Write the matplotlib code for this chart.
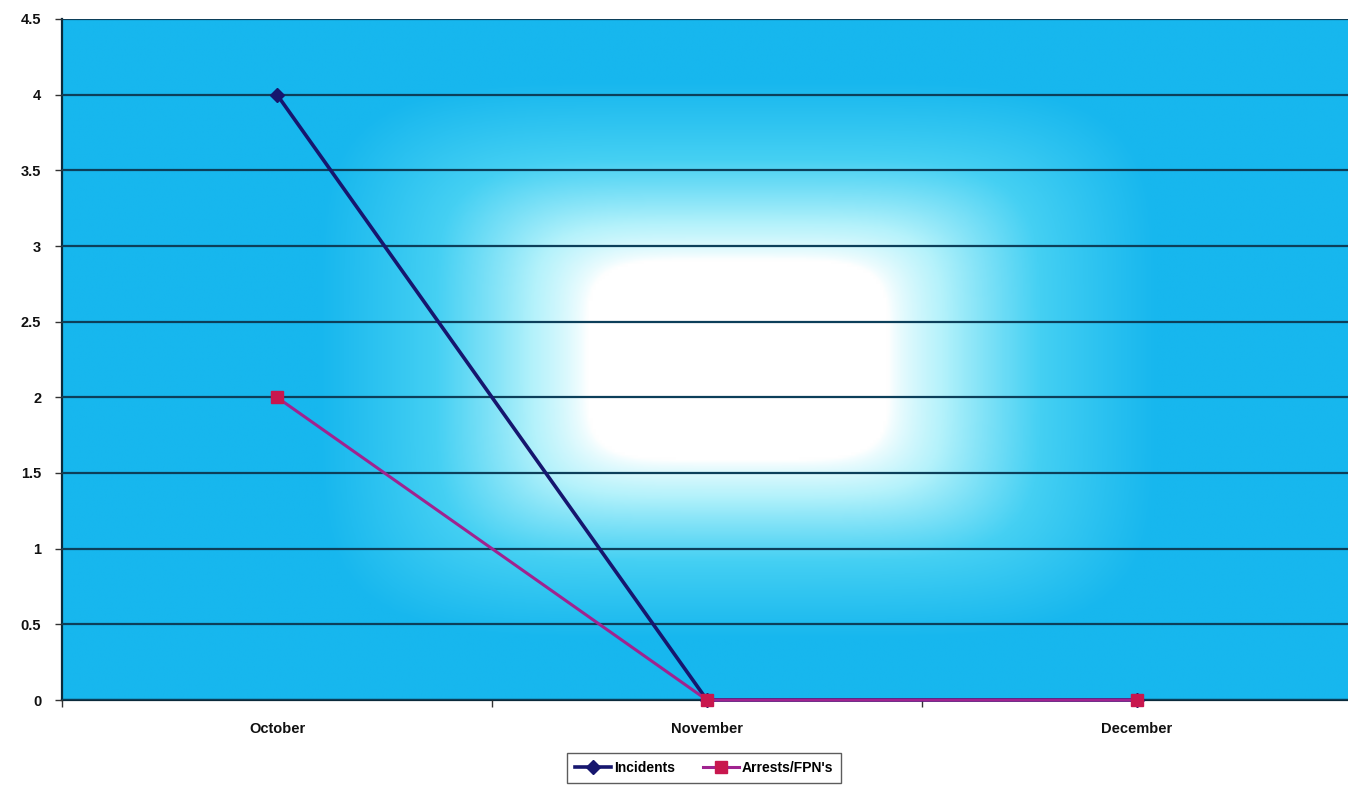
import numpy as np
import matplotlib
matplotlib.use("Agg")
import matplotlib.pyplot as plt
from matplotlib.colors import LinearSegmentedColormap

months = ["October", "November", "December"]
incidents = [4, 0, 0]
arrests = [2, 0, 0]
yticks = [0, 0.5, 1, 1.5, 2, 2.5, 3, 3.5, 4, 4.5]
ytick_labels = ["0", "0.5", "1", "1.5", "2", "2.5", "3", "3.5", "4", "4.5"]

W, H = 1348, 790
fig = plt.figure(figsize=(W / 100, H / 100), dpi=100)
ax_l, ax_r, ax_t, ax_b = 62, 1352, 19, 700
ax = fig.add_axes([ax_l / W, 1 - ax_b / H, (ax_r - ax_l) / W, (ax_b - ax_t) / H])

x = np.arange(len(months))
ax.set_xlim(-0.5, len(months) - 0.5)
ax.set_ylim(0, 4.5)

# background glow (rectangular gradient from centre)
nx, ny = 400, 240
px = np.linspace(ax_l, ax_r, nx)
py = np.linspace(ax_t, ax_b, ny)
PX, PY = np.meshgrid(px, py)
cx, cy = 738, 360
u = np.abs(PX - cx) / 420.0
v = np.abs(PY - cy) / 280.0
r = (u ** 5 + v ** 5) ** 0.2
t = np.clip((r - 0.36) / (1.0 - 0.36), 0, 1)
t = t ** 0.75
cmap = LinearSegmentedColormap.from_list(
    "glow", [(0.0, "#ffffff"), (0.3, "#b4f2fb"), (0.65, "#45d0f3"), (1.0, "#17b7ee")])
ax.imshow(t, cmap=cmap, vmin=0, vmax=1, aspect="auto",
          extent=[-0.5, len(months) - 0.5, 0, 4.5], origin="upper", zorder=0,
          interpolation="bilinear")

ax.set_yticks(yticks)
ax.set_yticklabels(ytick_labels)
ax.yaxis.grid(True, color="#0c3f5a", linewidth=1.6, zorder=1)
ax.set_axisbelow(False)

ax.set_xticks(x)
ax.set_xticklabels(months)
ax.set_xticks(np.arange(-0.5, len(months), 1.0), minor=True)
ax.tick_params(axis="x", which="major", length=0, pad=16)
ax.tick_params(axis="x", which="minor", length=5, width=1, color="#333333", direction="out")
ax.tick_params(axis="y", length=5, width=1, color="#333333", direction="out", pad=10)
for lab in ax.get_xticklabels() + ax.get_yticklabels():
    lab.set_fontfamily("Liberation Sans")
    lab.set_fontweight("bold")
    lab.set_fontsize(10.5)
    lab.set_color("#111111")

for s in ["top", "right"]:
    ax.spines[s].set_visible(False)
ax.spines["left"].set_color("#0a2a3a")
ax.spines["left"].set_linewidth(1.6)
ax.spines["bottom"].set_color("#0a2a3a")
ax.spines["bottom"].set_linewidth(1.6)

ax.plot(x, incidents, color="#16166e", linewidth=2.6, marker="D", markersize=7,
        markerfacecolor="#16166e", markeredgecolor="#16166e", label="Incidents", zorder=3,
        clip_on=False)
ax.plot(x, arrests, color="#a0238f", linewidth=2.2, marker="s", markersize=9,
        markerfacecolor="#c8174e", markeredgecolor="#c8174e", label="Arrests/FPN's", zorder=4,
        clip_on=False)

leg = fig.legend(loc="center", bbox_to_anchor=(704 / W, 1 - 768 / H), ncol=2,
                 frameon=True, fancybox=False, edgecolor="#333333",
                 prop={"family": "Liberation Sans", "weight": "bold", "size": 10},
                 handlelength=2.6, handletextpad=0.2, columnspacing=2.0,
                 borderpad=0.6, borderaxespad=0)
leg.get_frame().set_linewidth(1.0)

fig.savefig("out.png", dpi=100, facecolor="white")
